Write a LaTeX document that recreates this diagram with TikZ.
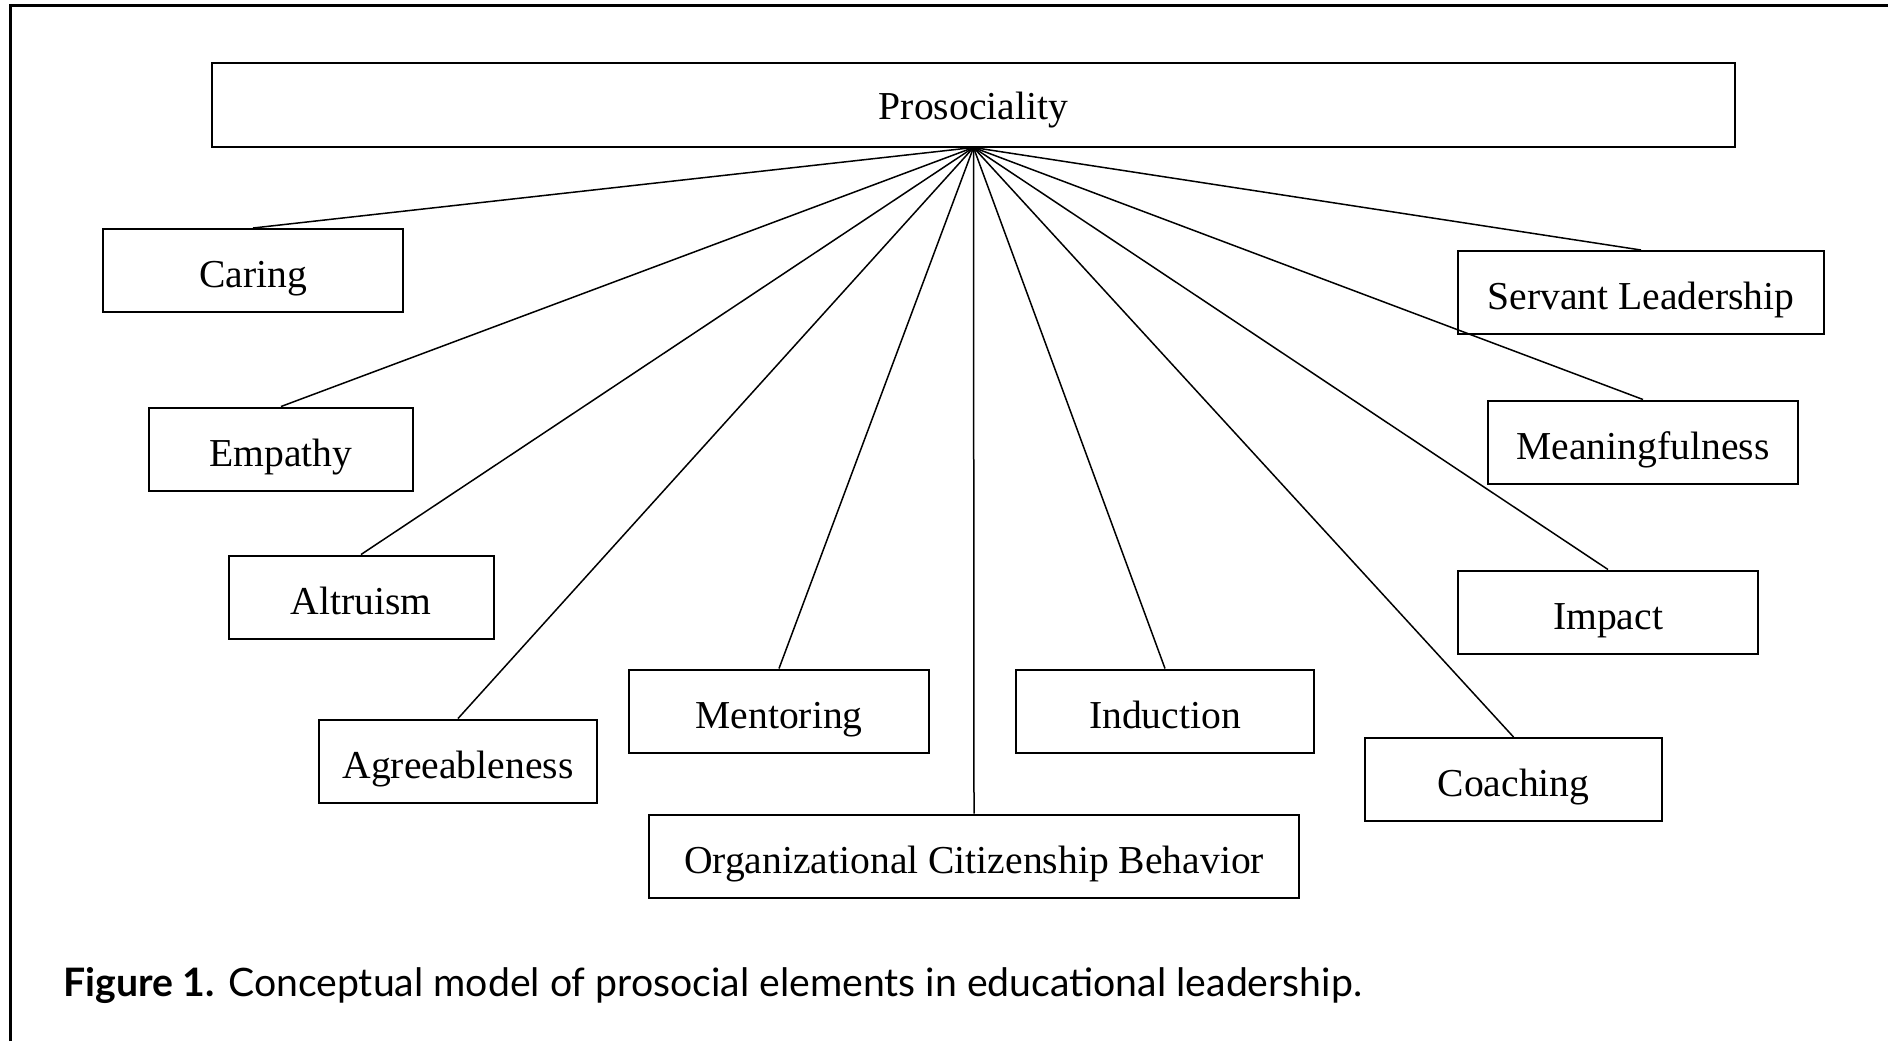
\documentclass[tikz,border=0pt]{standalone}
\usepackage{fontspec}
\setmainfont{Liberation Serif}
\newfontfamily\capfont{Lato}

\begin{document}
\begin{tikzpicture}[x=0.5pt,y=-0.5pt,
  elem/.style={draw, line width=1pt, minimum height=41.5pt, inner sep=0pt,
    text height=17pt, text depth=0pt, font=\fontsize{19.8}{20}\selectfont},
  link/.style={line width=0.75pt}]
  \useasboundingbox (0,0) rectangle (1888,1041);
  \draw[line width=1.2pt] (10.5,1041) -- (10.5,5.5) -- (1888,5.5);

  \node[elem, minimum width=761.5pt, minimum height=42pt, text height=15pt] (pro) at (973.5,104.5) {Prosociality};

  \node[elem, minimum width=150pt] (caring) at (253,270.5) {Caring};
  \node[elem, minimum width=132pt] (empathy) at (281,449) {Empathy};
  \node[elem, minimum width=132.5pt] (altruism) at (361,597) {Altruism};
  \node[elem, minimum width=139pt] (agree) at (458,761) {Agreeableness};
  \node[elem, minimum width=150pt] (mentor) at (779,711) {Mentoring};
  \node[elem, minimum width=325pt] (ocb) at (974,856) {Organizational Citizenship Behavior};
  \node[elem, minimum width=149pt] (induct) at (1165,711) {Induction};
  \node[elem, minimum width=148.5pt] (coach) at (1513.5,779.5) {Coaching};
  \node[elem, minimum width=150pt] (impact) at (1608,612) {Impact};
  \node[elem, minimum width=155pt] (meaning) at (1643,442) {Meaningfulness};
  \node[elem, minimum width=183pt] (servant) at (1641,292.5) {Servant Leadership};

  \draw[link] (pro.south) -- (caring.north);
  \draw[link] (pro.south) -- (empathy.north);
  \draw[link] (pro.south) -- (altruism.north);
  \draw[link] (pro.south) -- (agree.north);
  \draw[link] (pro.south) -- (mentor.north);
  \draw[link] (pro.south) -- (ocb.north);
  \draw[link] (pro.south) -- (induct.north);
  \draw[link] (pro.south) -- (coach.north);
  \draw[link] (pro.south) -- (impact.north);
  \draw[link] (pro.south) -- (meaning.north);
  \draw[link] (pro.south) -- (servant.north);

  \node[anchor=base west, inner sep=0pt, font=\capfont\fontsize{19.6}{22}\selectfont] (caption) at (63,996)
    {\textbf{Figure 1.} Conceptual model of prosocial elements in educational leadership.};
\end{tikzpicture}
\end{document}
